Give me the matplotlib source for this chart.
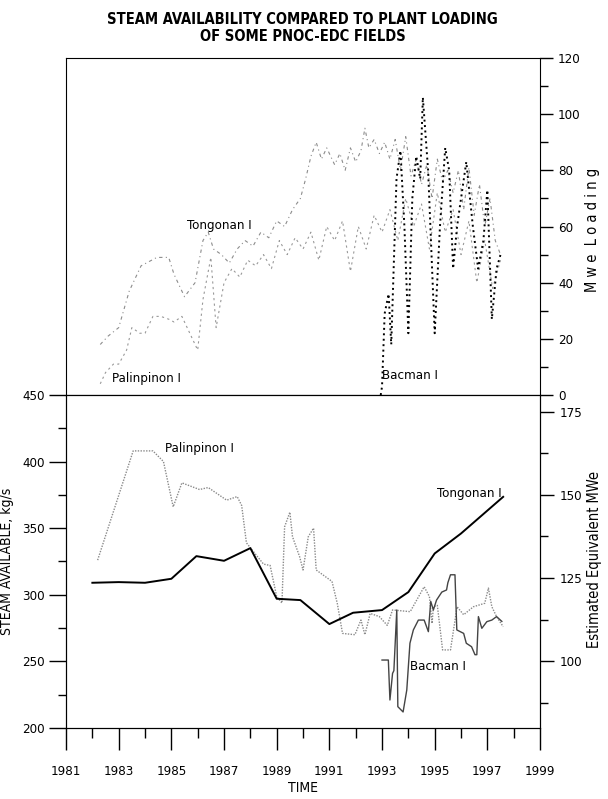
import matplotlib.pyplot as plt
from matplotlib.ticker import MultipleLocator, FixedLocator

plt.rcParams["font.family"] = ["DejaVu Sans"]
plt.rcParams["font.stretch"] = "condensed"
plt.rcParams["font.size"] = 10

# ---- bottom panel: steam available, kg/s ----
tong_yr = [1982.0, 1983.0, 1984.0, 1985.0, 1985.95, 1987.0, 1988.0, 1989.0,
           1989.9, 1991.0, 1991.9, 1993.0, 1994.0, 1995.0, 1996.0, 1997.6]
tong_steam = [309, 309.5, 309, 312, 329, 325.5, 335, 297,
              296, 278, 286.5, 288.5, 302, 331, 346, 373.5]

palin_yr = [1982.2, 1983.55, 1984.3, 1984.7, 1985.07, 1985.4, 1986.07, 1986.4,
            1987.1, 1987.5, 1987.67, 1987.85, 1988.5, 1988.75, 1989.0, 1989.2,
            1989.3, 1989.5, 1989.6, 1989.87, 1990.0, 1990.2, 1990.4, 1990.5,
            1991.1, 1991.3, 1991.5, 1991.97, 1992.2, 1992.35, 1992.55, 1992.9,
            1993.2, 1993.4, 1994.07, 1994.6, 1994.8, 1994.9, 1994.95, 1995.1,
            1995.3, 1995.6, 1995.85, 1996.1, 1996.47, 1996.9, 1997.04, 1997.17,
            1997.35, 1997.6]
palin_steam = [326, 408, 408, 400, 366, 384, 379, 380.5,
               371, 373.7, 367, 339, 323, 322, 298.6, 293.8,
               351, 362, 343.6, 328.6, 318.6, 343.6, 350, 318.6,
               310, 293.6, 271, 270, 281, 270, 286, 283.6,
               277, 288.6, 287.3, 306, 298.6, 278.5, 291, 292,
               258.6, 258.6, 291, 285, 291, 293.6, 305, 291,
               283.6, 276]

bac_yr = [1993.0, 1993.24, 1993.3, 1993.4, 1993.45, 1993.56, 1993.6, 1993.8,
          1993.94, 1994.06, 1994.19, 1994.38, 1994.6, 1994.76, 1994.85, 1994.95,
          1995.07, 1995.27, 1995.45, 1995.5, 1995.6, 1995.77, 1995.84, 1996.1,
          1996.2, 1996.4, 1996.53, 1996.6, 1996.66, 1996.79, 1996.98, 1997.17,
          1997.35, 1997.55]
bac_steam = [251, 251, 221, 241, 243, 288.6, 216, 212,
             228.5, 263.6, 273.6, 281, 281, 272.3, 295, 288.6,
             296, 302, 303.6, 309, 315, 315, 273.6, 271,
             263.6, 261, 255, 255, 283.6, 274.8, 279.8, 281,
             283.6, 280]

# ---- top panel: MWe loading ----
tong_load_yr = [1982.3, 1982.6, 1983.0, 1983.4, 1983.85, 1984.45, 1984.9, 1985.1,
                1985.5, 1985.9, 1986.2, 1986.4, 1986.6, 1986.9, 1987.2, 1987.5,
                1987.8, 1988.1, 1988.4, 1988.7, 1989.0, 1989.3, 1989.6, 1989.9,
                1990.1, 1990.3, 1990.5, 1990.7, 1990.9, 1991.2, 1991.4, 1991.6,
                1991.8, 1992.0, 1992.2, 1992.35, 1992.5, 1992.7, 1992.9, 1993.1,
                1993.3, 1993.5, 1993.7, 1993.9, 1994.1, 1994.3, 1994.5, 1994.7,
                1994.9, 1995.1, 1995.3, 1995.5, 1995.7, 1995.9, 1996.1, 1996.3,
                1996.5, 1996.7, 1996.9, 1997.1, 1997.3, 1997.5]
tong_load = [18, 21, 24, 37, 46, 49, 49, 43,
             35, 40, 55, 58, 52, 50, 47, 52,
             55, 53, 58, 56, 62, 60, 66, 70,
             77, 85, 90, 84, 88, 82, 86, 80,
             88, 83, 87, 95, 88, 91, 86, 90,
             84, 91, 80, 92, 78, 84, 75, 82,
             70, 84, 76, 80, 72, 80, 66, 81,
             64, 75, 60, 70, 55, 50]

palin_load_yr = [1982.3, 1982.5, 1982.8, 1983.0, 1983.3, 1983.5, 1983.8, 1984.0,
                 1984.3, 1984.6, 1984.9, 1985.1, 1985.4, 1985.7, 1986.0, 1986.2,
                 1986.5, 1986.7, 1987.0, 1987.3, 1987.6, 1987.9, 1988.2, 1988.5,
                 1988.8, 1989.1, 1989.4, 1989.7, 1990.0, 1990.3, 1990.6, 1990.9,
                 1991.2, 1991.5, 1991.8, 1992.1, 1992.4, 1992.7, 1993.0, 1993.3,
                 1993.6, 1993.9, 1994.2, 1994.5, 1994.8, 1995.1, 1995.4, 1995.7,
                 1996.0, 1996.3, 1996.6, 1996.9, 1997.2, 1997.5]
palin_load = [4, 8, 11, 11, 16, 24, 22, 22,
              28, 28, 27, 26, 28, 22, 16, 34,
              49, 24, 40, 45, 42, 48, 46, 50,
              45, 55, 50, 56, 52, 58, 48, 60,
              55, 62, 44, 60, 52, 64, 58, 66,
              55, 70, 60, 68, 52, 72, 58, 66,
              50, 62, 40, 55, 38, 48]

bac_load_yr = [1992.95, 1993.0, 1993.1, 1993.25, 1993.35, 1993.55, 1993.7, 1993.85,
               1994.0, 1994.15, 1994.3, 1994.45, 1994.55, 1994.75, 1995.0, 1995.2,
               1995.4, 1995.55, 1995.7, 1995.85, 1996.0, 1996.2, 1996.45, 1996.65,
               1996.85, 1997.0, 1997.17, 1997.35, 1997.5]
bac_load = [0, 3, 29, 36, 18, 77, 87, 60,
            22, 70, 85, 77, 106, 80, 22, 60,
            88, 80, 45, 60, 70, 83, 60, 45,
            55, 73, 27, 45, 50]

fig = plt.figure(figsize=(6.08, 7.99), dpi=100)
ax_t = fig.add_axes([0.1086, 0.5056, 0.7796, 0.4218])
ax_b = fig.add_axes([0.1086, 0.0889, 0.7796, 0.4168])

# top panel
ax_t.plot(tong_load_yr, tong_load, color="#8c8c8c", lw=0.8, ls=(0, (3, 3, 1, 3)))
ax_t.plot(palin_load_yr, palin_load, color="#999999", lw=0.8, ls=(0, (2, 3)))
ax_t.plot(bac_load_yr, bac_load, color="black", lw=1.4, ls=(0, (1, 1.8)))
ax_t.set_xlim(1981, 1999)
ax_t.set_ylim(0, 120)
ax_t.yaxis.tick_right()
ax_t.yaxis.set_label_position("right")
ax_t.yaxis.set_major_locator(MultipleLocator(20))
ax_t.yaxis.set_minor_locator(MultipleLocator(10))
ax_t.tick_params(axis="y", which="major", length=9, width=1, pad=4, labelsize=9.5)
ax_t.tick_params(axis="y", which="minor", length=6, width=1)
ax_t.tick_params(axis="x", which="both", bottom=False, labelbottom=False)
ax_t.set_ylabel("M w e  L o a d i n g", fontsize=10.5)
ax_t.yaxis.set_label_coords(1.095, 0.49)
ax_t.text(1982.75, 6, "Palinpinon I", fontsize=9.5, va="center")
ax_t.text(1985.6, 60.5, "Tongonan I", fontsize=9.5, va="center")
ax_t.text(1993.0, 7, "Bacman I", fontsize=9.5, va="center")

# bottom panel
ax_b.plot(palin_yr, palin_steam, color="#8a8a8a", lw=1.0, ls=(0, (1, 1)))
ax_b.plot(bac_yr, bac_steam, color="#444444", lw=1.0)
ax_b.plot(tong_yr, tong_steam, color="black", lw=1.4)
ax_b.set_xlim(1981, 1999)
ax_b.set_ylim(200, 450)
ax_b.xaxis.set_major_locator(FixedLocator(range(1981, 2000, 2)))
ax_b.xaxis.set_minor_locator(FixedLocator(range(1982, 1999, 2)))
ax_b.yaxis.set_major_locator(MultipleLocator(50))
ax_b.yaxis.set_minor_locator(MultipleLocator(25))
ax_b.tick_params(axis="x", which="major", length=16, width=1, pad=11, labelsize=9.5)
ax_b.tick_params(axis="x", which="minor", length=7, width=1)
ax_b.tick_params(axis="y", which="major", length=12, width=1, pad=3, labelsize=9.5)
ax_b.tick_params(axis="y", which="minor", length=6, width=1)
ax_b.set_xlabel("TIME", fontsize=10, labelpad=2)
ax_b.set_ylabel("STEAM AVAILABLE, kg/s", fontsize=10)
ax_b.yaxis.set_label_coords(-0.11, 0.5)
ax_b.text(1984.75, 410, "Palinpinon I", fontsize=9.5, va="center")
ax_b.text(1997.55, 376, "Tongonan I", fontsize=9.5, va="center", ha="right")
ax_b.text(1994.06, 246, "Bacman I", fontsize=9.5, va="center")

ax_r = ax_b.twinx()
ax_r.set_ylim(80, 180)
ax_r.yaxis.set_major_locator(FixedLocator([100, 125, 150, 175]))
ax_r.yaxis.set_minor_locator(FixedLocator([87.5, 112.5, 137.5, 162.5]))
ax_r.tick_params(axis="y", which="major", length=10, width=1, pad=4, labelsize=9.5)
ax_r.tick_params(axis="y", which="minor", length=6, width=1)
ax_r.set_ylabel("Estimated Equivalent MWe", fontsize=10.5)
ax_r.yaxis.set_label_coords(1.1, 0.505)

fig.text(0.498, 0.965, "STEAM AVAILABILITY COMPARED TO PLANT LOADING\nOF SOME PNOC-EDC FIELDS",
         ha="center", va="center", fontsize=10.5, fontweight="bold", linespacing=1.2)

fig.savefig("out.png", dpi=100)
